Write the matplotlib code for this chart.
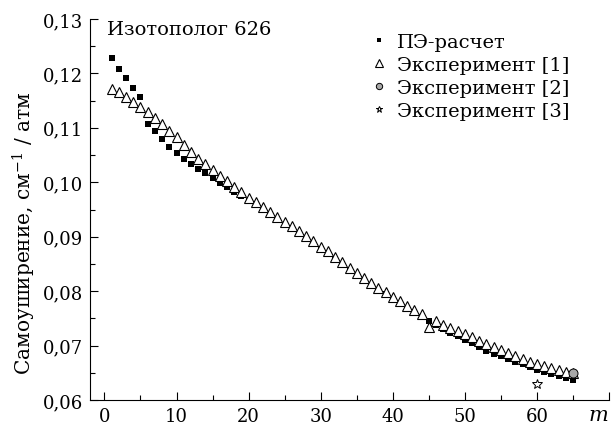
import matplotlib
matplotlib.use("Agg")
import matplotlib.pyplot as plt
from matplotlib.ticker import MultipleLocator, FuncFormatter

plt.rcParams['font.family'] = ['DejaVu Serif']
plt.rcParams['mathtext.fontset'] = 'dejavuserif'

# --- data ---
m_calc = list(range(1, 66))
calc = [0.1229, 0.1209, 0.1191, 0.1174, 0.1156, 0.1108, 0.1094, 0.1079, 0.1065, 0.1053,
        0.1043, 0.1034, 0.1025, 0.1017, 0.1008, 0.0999, 0.0992, 0.0983, 0.0975, 0.0966,
        0.0958, 0.0949, 0.0941, 0.0931, 0.0922, 0.0914, 0.0905, 0.0896, 0.0887, 0.0877,
        0.0868, 0.0858, 0.0849, 0.0839, 0.0830, 0.0820, 0.0811, 0.0802, 0.0794, 0.0785,
        0.0777, 0.0768, 0.0761, 0.0753, 0.0745, 0.0738, 0.0731, 0.0724, 0.0717, 0.0711,
        0.0705, 0.0697, 0.0690, 0.0685, 0.0680, 0.0675, 0.0670, 0.0666, 0.0661, 0.0656,
        0.0652, 0.0648, 0.0645, 0.0641, 0.0637]

m_exp1 = list(range(1, 66))
exp1 = [0.1172, 0.1165, 0.1156, 0.1147, 0.1139, 0.1129, 0.1119, 0.1107, 0.1094, 0.1083,
        0.1069, 0.1056, 0.1043, 0.1034, 0.1023, 0.1012, 0.1002, 0.0992, 0.0982, 0.0972,
        0.0964, 0.0954, 0.0946, 0.0936, 0.0927, 0.0920, 0.0910, 0.0901, 0.0893, 0.0882,
        0.0873, 0.0862, 0.0853, 0.0843, 0.0834, 0.0824, 0.0815, 0.0806, 0.0799, 0.0790,
        0.0782, 0.0773, 0.0766, 0.0758, 0.0734, 0.0745, 0.0738, 0.0733, 0.0727, 0.0721,
        0.0715, 0.0708, 0.0702, 0.0697, 0.0691, 0.0686, 0.0680, 0.0675, 0.0670, 0.0666,
        0.0662, 0.0658, 0.0655, 0.0652, 0.0650]

m_exp2 = [65]
exp2 = [0.0650]

m_exp3 = [60]
exp3 = [0.0630]

labels = ['ПЭ-расчет', 'Эксперимент [1]', 'Эксперимент [2]', 'Эксперимент [3]']
x_ticks = [0, 10, 20, 30, 40, 50, 60]

fig = plt.figure(figsize=(6.12, 4.27), dpi=100)
ax = fig.add_axes([90/612, 26/427, 519/612, 381/427])

ax.plot(m_calc, calc, ls='none', marker='s', ms=4.3, mfc='black', mec='black', mew=0,
        label=labels[0], zorder=3)
ax.plot(m_exp1, exp1, ls='none', marker='^', ms=7.5, mfc='white', mec='black', mew=0.8,
        label=labels[1], zorder=4)
ax.plot(m_exp2, exp2, ls='none', marker='o', ms=6.5, mfc='#a8a8a8', mec='black', mew=0.7,
        label=labels[2], zorder=5)
ax.plot(m_exp3, exp3, ls='none', marker='*', ms=7, mfc='white', mec='black', mew=0.7,
        label=labels[3], zorder=5)

ax.set_xlim(-2, 70)
ax.set_ylim(0.06, 0.13)
ax.set_xticks(x_ticks + [70])
ax.set_xticklabels([str(t) for t in x_ticks] + [''])
ax.xaxis.set_minor_locator(MultipleLocator(5))
ax.yaxis.set_major_locator(MultipleLocator(0.01))
ax.yaxis.set_minor_locator(MultipleLocator(0.005))
ax.yaxis.set_major_formatter(FuncFormatter(lambda v, p: f"{v:.2f}".replace('.', ',')))

for s in ['top', 'right']:
    ax.spines[s].set_visible(False)
for s in ['left', 'bottom']:
    ax.spines[s].set_linewidth(0.8)
ax.tick_params(which='major', direction='in', length=5.5, width=0.8, labelsize=13, pad=5)
ax.tick_params(which='minor', direction='in', length=3.5, width=0.8)

ax.set_ylabel('Самоуширение, см$^{-1}$ / атм', fontsize=14.5)
ax.yaxis.set_label_coords((38 - 90) / 519, (401 - 233) / 381)
ax.set_xlabel('m', fontsize=15, style='italic')
ax.xaxis.set_label_coords((598 - 90) / 519, (401 - 416) / 381)
ax.xaxis.label.set_va('center')

ax.text(0.033, 0.975, 'Изотополог 626', transform=ax.transAxes, fontsize=14,
        ha='left', va='center')

leg = ax.legend(loc='upper left', bbox_to_anchor=((371 - 90) / 519, 0.963), frameon=False,
                fontsize=14, handlelength=0.8, handletextpad=0.55, labelspacing=0.25,
                borderpad=0, borderaxespad=0, markerscale=0.7)

fig.savefig('out.png', dpi=100)
